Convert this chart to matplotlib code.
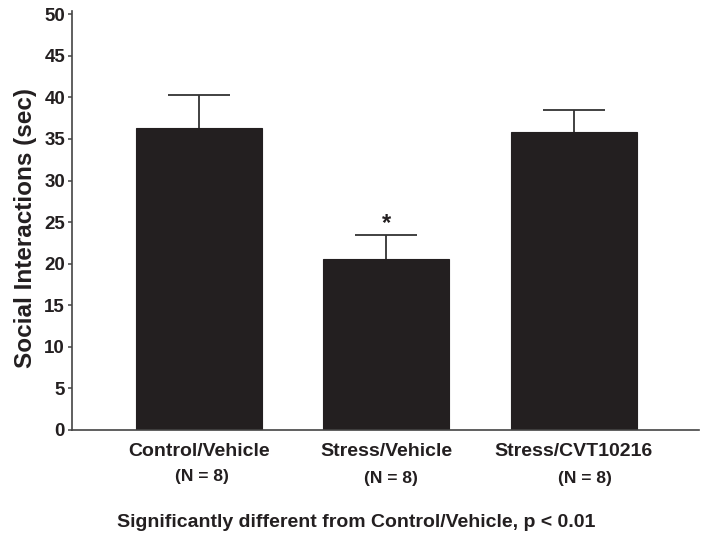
import matplotlib
matplotlib.use("Agg")
import matplotlib.pyplot as plt
import numpy as np

categories = ["Control/Vehicle", "Stress/Vehicle", "Stress/CVT10216"]
n_labels = ["(N = 8)", "(N = 8)", "(N = 8)"]
means = [36.35, 20.55, 35.8]
sem = [3.9, 2.9, 2.65]
sig_marks = ["", "*", ""]
yticks = [0, 5, 10, 15, 20, 25, 30, 35, 40, 45, 50]

plt.rcParams['font.family'] = ['Liberation Sans', 'DejaVu Sans']
plt.rcParams['font.weight'] = 'bold'

fig = plt.figure(figsize=(7.04, 5.35), dpi=100)
ax = fig.add_axes([0.1023, 0.1963, 0.8907, 0.7832])

x = np.arange(len(categories))
color = '#231f20'
ax.bar(x, means, width=0.672, color=color, edgecolor=color, linewidth=0.8, zorder=2)
eb = ax.errorbar(x, means, yerr=[np.zeros(len(sem)), sem], fmt='none', ecolor='#333333',
                 elinewidth=1.3, capsize=22.5, capthick=1.3, zorder=1)
# hide the lower caps (only upper error shown)
caplines = eb[1]
if len(caplines) == 2:
    caplines[0].set_visible(False)

for xi, m, s, mk in zip(x, means, sem, sig_marks):
    if mk:
        ax.text(xi, m + s + 0.05, mk, ha='center', va='bottom', fontsize=17, fontweight='bold', color=color)

ax.set_xlim(-0.677, 2.667)
ax.set_ylim(0, 50.4)
ax.set_yticks(yticks)
ax.set_yticklabels([str(t) for t in yticks], fontsize=13.5, fontweight='bold', color='#231f20')
ax.set_xticks(x)
ax.set_xticklabels(categories, fontsize=14, fontweight='bold', color='#231f20')
ax.tick_params(axis='x', length=0, pad=9.5)
ax.tick_params(axis='y', length=3, width=1.1, color='#444444', pad=2)

for sp in ['top', 'right']:
    ax.spines[sp].set_visible(False)
for sp in ['left', 'bottom']:
    ax.spines[sp].set_color('#444444')
    ax.spines[sp].set_linewidth(1.2)

ax.set_ylabel("Social Interactions (sec)", fontsize=17.5, fontweight='bold', color='#231f20')
ax.yaxis.set_label_coords(-0.056, 0.481)

n_y = [477, 478, 478]
n_x = [201.5, 391, 584.5]
for nx, ny, lab in zip(n_x, n_y, n_labels):
    fig.text(nx / 704, 1 - ny / 535, lab, ha='center', va='center', fontsize=12.5, fontweight='bold', color='#231f20')

fig.text(356 / 704, 1 - 527 / 535, "Significantly different from Control/Vehicle, p < 0.01",
         ha='center', va='baseline', fontsize=14, fontweight='bold', color='#231f20')

fig.savefig("out.png", dpi=100)
